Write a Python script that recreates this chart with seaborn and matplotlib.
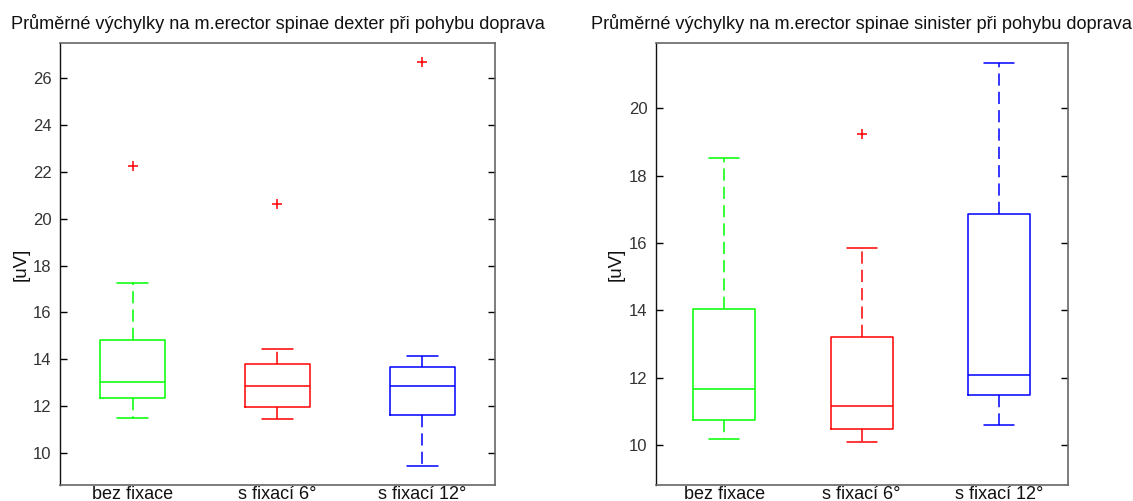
import matplotlib
matplotlib.use("Agg")
import matplotlib.pyplot as plt
import seaborn as sns
import pandas as pd

sns.set_theme(style="white")
plt.rcParams['font.family'] = ['Liberation Sans', 'DejaVu Sans']

categories = ["bez fixace", "s fixací 6°", "s fixací 12°"]
colors = ["#00ff00", "#ff0000", "#0000ff"]

# left: m.erector spinae dexter
dex_lo = [11.47, 11.43, 9.44]
dex_q1 = [12.32, 11.97, 11.60]
dex_med = [13.03, 12.86, 12.86]
dex_q3 = [14.80, 13.80, 13.68]
dex_hi = [17.27, 14.43, 14.15]
dex_out = [[22.25], [20.62], [26.69]]

# right: m.erector spinae sinister
sin_lo = [10.18, 10.09, 10.60]
sin_q1 = [10.75, 10.48, 11.48]
sin_med = [11.66, 11.17, 12.08]
sin_q3 = [14.03, 13.22, 16.86]
sin_hi = [18.54, 15.86, 21.36]
sin_out = [[], [19.24], []]

titles = ["Průměrné výchylky na m.erector spinae dexter při pohybu doprava",
          "Průměrné výchylky na m.erector spinae sinister při pohybu doprava"]
ylabel = "[uV]"
dex_yticks = [10, 12, 14, 16, 18, 20, 22, 24, 26]
sin_yticks = [10, 12, 14, 16, 18, 20]

fig = plt.figure(figsize=(11.33, 5.01), dpi=100)
ax1 = fig.add_axes([60/1133, 16/501, 435/1133, 442/501])
ax2 = fig.add_axes([655.7/1133, 16/501, 412/1133, 442/501])


def draw(ax, lo, q1, med, q3, hi, out, title, yticks, ylim, ylabel_x):
    stats = []
    for i, c in enumerate(categories):
        stats.append(dict(label=c, whislo=lo[i], q1=q1[i], med=med[i],
                          q3=q3[i], whishi=hi[i], fliers=[]))
    pos = list(range(1, len(categories) + 1))
    res = ax.bxp(stats, positions=pos, widths=0.45, capwidths=0.22,
                 showfliers=False, patch_artist=False, manage_ticks=False)
    for i, col in enumerate(colors):
        res['boxes'][i].set(color=col, linewidth=1.1)
        res['medians'][i].set(color=col, linewidth=1.1)
        for w in res['whiskers'][2*i:2*i+2]:
            w.set(color=col, linewidth=1.1, linestyle=(0, (8.0, 4.0)))
        for cp in res['caps'][2*i:2*i+2]:
            cp.set(color=col, linewidth=1.1)
    rows = [(pos[i], v) for i in range(len(categories)) for v in out[i]]
    if rows:
        df = pd.DataFrame(rows, columns=["x", "y"])
        sns.scatterplot(data=df, x="x", y="y", marker="+", color="#ff0000",
                        s=60, linewidth=1.1, ax=ax, legend=False, zorder=5)
    ax.set_xlim(0.5, len(categories) + 0.5)
    ax.set_ylim(*ylim)
    ax.set_xticks(pos)
    ax.set_xticklabels(categories, fontsize=13, color="#111111")
    ax.set_yticks(yticks)
    ax.set_yticklabels([str(t) for t in yticks], fontsize=12, color="#333333")
    ax.tick_params(axis="x", length=0, pad=1)
    ax.tick_params(axis="y", direction="in", length=5, width=1, color="black",
                   left=True, right=True, pad=6)
    ax.set_xlabel("")
    ax.set_ylabel(ylabel, fontsize=13.5, color="#111111")
    ax.yaxis.set_label_coords(ylabel_x, 0.5)
    ax.set_title(title, fontsize=13.1, color="#111111", pad=10)
    for s in ["top", "right", "bottom"]:
        ax.spines[s].set_color("#666666")
        ax.spines[s].set_linewidth(1.2)
    ax.spines["left"].set_color("#111111")
    ax.spines["left"].set_linewidth(1.0)


draw(ax1, dex_lo, dex_q1, dex_med, dex_q3, dex_hi, dex_out, titles[0],
     dex_yticks, (8.62, 27.51), -30/435)
draw(ax2, sin_lo, sin_q1, sin_med, sin_q3, sin_hi, sin_out, titles[1],
     sin_yticks, (8.82, 21.94), -31/412)

fig.savefig("out.png", dpi=100)
